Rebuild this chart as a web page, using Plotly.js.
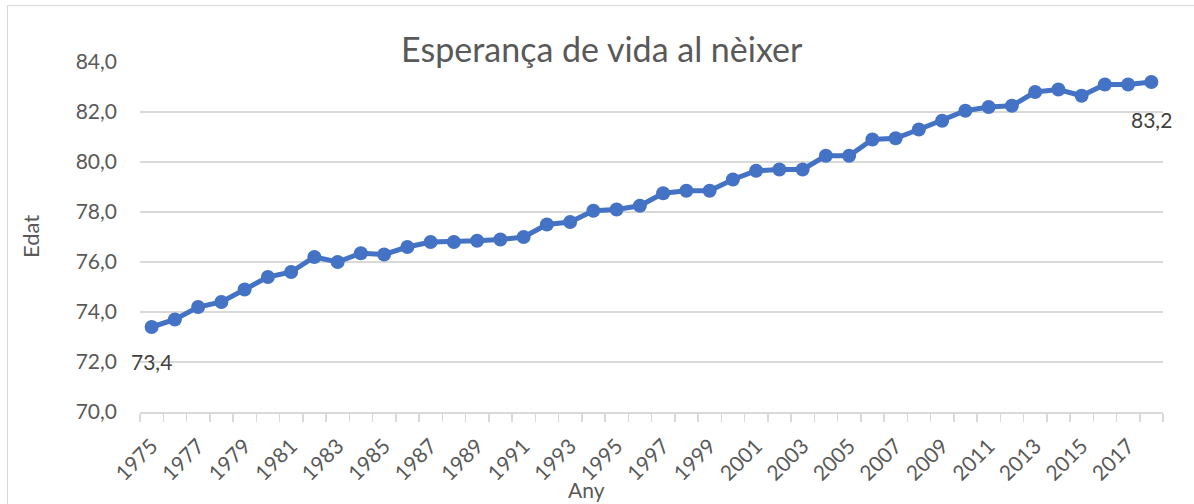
<!DOCTYPE html>
<html>
<head>
<meta charset="utf-8">
<script src="https://cdn.plot.ly/plotly-3.0.1.min.js"></script>
<style>
  html, body { margin: 0; padding: 0; background: #ffffff; }
  #chart { width: 1194px; height: 504px; position: absolute; left: 0; top: 0; }
  #frame { position: absolute; left: 7px; top: 5px; width: 1200px; height: 520px; border: 1px solid #d9d9d9; pointer-events: none; }
</style>
</head>
<body>
<div id="chart"></div>
<div id="frame"></div>
<script>
const years = [1975,1976,1977,1978,1979,1980,1981,1982,1983,1984,1985,1986,1987,1988,1989,1990,1991,1992,1993,1994,1995,1996,1997,1998,1999,2000,2001,2002,2003,2004,2005,2006,2007,2008,2009,2010,2011,2012,2013,2014,2015,2016,2017,2018];
const lifeExpectancy = [73.4,73.7,74.2,74.4,74.9,75.4,75.6,76.2,76.0,76.35,76.3,76.6,76.8,76.8,76.85,76.9,77.0,77.5,77.6,78.05,78.1,78.25,78.75,78.85,78.85,79.3,79.65,79.7,79.7,80.25,80.25,80.9,80.95,81.3,81.65,82.05,82.2,82.25,82.8,82.9,82.65,83.1,83.1,83.2];
const tickYears = [1975,1977,1979,1981,1983,1985,1987,1989,1991,1993,1995,1997,1999,2001,2003,2005,2007,2009,2011,2013,2015,2017];
const titleText = "Esperança de vida al nèixer";
const xTitle = "Any";
const yTitle = "Edat";

const fmt = v => v.toFixed(1).replace('.', ',');
const FONT = "Lato, 'Open Sans', sans-serif";
const TXT = "#595959";
const last = years.length - 1;

const trace = {
  x: years,
  y: lifeExpectancy,
  type: 'scatter',
  mode: 'lines+markers',
  line: { color: '#4472C4', width: 5 },
  marker: { color: '#4472C4', size: 14 },
  hoverinfo: 'x+y'
};

const layout = {
  width: 1194,
  height: 504,
  margin: { l: 140, r: 31, t: 62, b: 92 },
  paper_bgcolor: '#ffffff',
  plot_bgcolor: '#ffffff',
  separators: ',.',
  showlegend: false,
  font: { family: FONT, color: TXT, size: 21 },
  title: {
    text: titleText,
    font: { family: FONT, size: 34, color: TXT },
    x: 0.504, xanchor: 'center', xref: 'container',
    y: 0.9, yanchor: 'middle', yref: 'container'
  },
  xaxis: {
    type: 'linear',
    range: [years[0] - 0.5, years[last] + 0.5],
    tickvals: tickYears,
    ticktext: tickYears.map(String),
    tickangle: -45,
    ticks: '',
    ticklabelstandoff: 12,
    showgrid: false,
    zeroline: false,
    showline: true,
    linecolor: '#d9d9d9',
    linewidth: 1.5,
    tickfont: { family: FONT, size: 21, color: TXT },
    minor: { ticks: 'outside', ticklen: 8, tickcolor: '#d9d9d9', tickwidth: 1.5, tick0: years[0] - 0.5, dtick: 1, showgrid: false }
  },
  yaxis: {
    range: [70, 84],
    dtick: 2,
    tick0: 70,
    tickformat: '.1f',
    showgrid: true,
    gridcolor: '#d9d9d9',
    gridwidth: 1.3,
    zeroline: false,
    showline: false,
    ticks: '',
    ticklabelstandoff: 22,
    tickfont: { family: FONT, size: 21, color: TXT }
  },
  annotations: [
    { x: years[0], y: lifeExpectancy[0], xref: 'x', yref: 'y', text: fmt(lifeExpectancy[0]), showarrow: false, yshift: -34, font: { family: FONT, size: 21, color: '#404040' } },
    { x: years[last], y: lifeExpectancy[last], xref: 'x', yref: 'y', text: fmt(lifeExpectancy[last]), showarrow: false, yshift: -37, font: { family: FONT, size: 21, color: '#404040' } },
    { x: 0.436, y: -0.222, xref: 'paper', yref: 'paper', text: xTitle, showarrow: false, xanchor: 'center', yanchor: 'middle', font: { family: FONT, size: 21, color: TXT } },
    { x: 0, y: 0.5, xref: 'paper', yref: 'paper', text: yTitle, showarrow: false, textangle: -90, xanchor: 'center', yanchor: 'middle', font: { family: FONT, size: 22, color: TXT } }
  ]
};
// y-title x in paper units from pixel position 30
layout.annotations[3].x = (30 - 140) / 1023;

Plotly.newPlot('chart', [trace], layout, { displayModeBar: false, staticPlot: true });
</script>
</body>
</html>
